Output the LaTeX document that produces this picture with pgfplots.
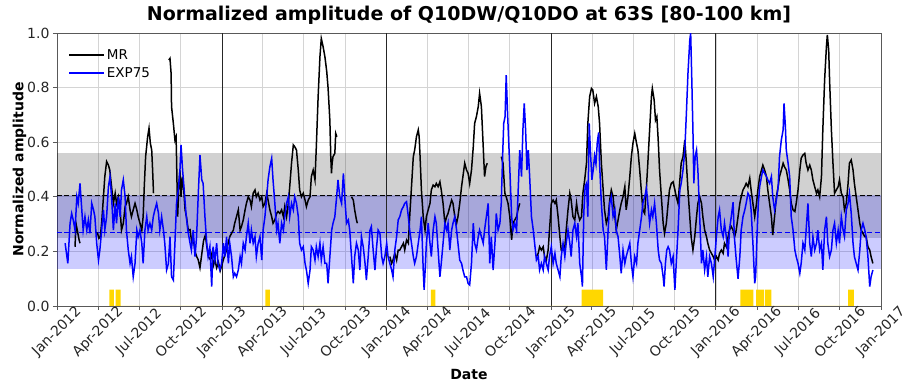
\documentclass[border=0pt]{standalone}
\usepackage{fontspec}
\setmainfont{DejaVu Sans}
\usepackage{pgfplots}
\pgfplotsset{compat=1.18}
\definecolor{gold}{RGB}{255,215,0}

\begin{document}
\begin{tikzpicture}
\useasboundingbox (0,0) rectangle (903pt,382pt);
\begin{axis}[
  at={(57pt,76pt)}, anchor=south west,
  width=824pt, height=273pt, scale only axis,
  xmin=0, xmax=1827, ymin=0, ymax=1,
  xtick={0,91,182,274,366,456,547,639,731,821,912,1004,1096,1186,1277,1369,1461,1552,1643,1735,1827},
  xticklabels={Jan-2012,Apr-2012,Jul-2012,Oct-2012,Jan-2013,Apr-2013,Jul-2013,Oct-2013,Jan-2014,Apr-2014,Jul-2014,Oct-2014,Jan-2015,Apr-2015,Jul-2015,Oct-2015,Jan-2016,Apr-2016,Jul-2016,Oct-2016,Jan-2017},
  ytick={0,0.2,0.4,0.6,0.8,1.0},
  yticklabel style={/pgf/number format/.cd, fixed, fixed zerofill, precision=1},
  /pgf/number format/assume math mode=true,
  tick align=outside, tick pos=left, major tick length=4pt,
  grid=major, grid style={draw=black!17, line width=0.8pt},
  axis line style={draw=black!65, line width=0.9pt},
  tick style={draw=black!65, line width=0.9pt},
  ticklabel style={font=\fontsize{14}{16}\selectfont, text=black!85},
  x tick label style={anchor=center, yshift=-22pt, rotate=45},
  title={Normalized amplitude of Q10DW/Q10DO at 63S [80-100 km]},
  title style={at={(axis description cs:0.5,1)}, anchor=base, yshift=6pt, font=\bfseries\fontsize{19}{22}\selectfont},
  xlabel={Date},
  xlabel style={at={(axis description cs:0.5,0)}, anchor=base, yshift=-73.5pt, font=\bfseries\fontsize{14}{16}\selectfont},
  ylabel={Normalized amplitude},
  ylabel style={at={(axis description cs:-0.0407,0.5)}, anchor=base, font=\bfseries\fontsize{14}{16}\selectfont},
  legend style={at={(axis description cs:0.010,0.955)}, anchor=north west, draw=none, fill=none,
    font=\fontsize{13.5}{15}\selectfont, row sep=2.5pt},
  legend cell align=left,
  legend image code/.code={\draw[#1, line width=1.5pt] (0pt,0pt) -- (28pt,0pt); \path (0pt,0pt) -- (35pt,0pt);},
  unbounded coords=jump,
]

% spread of each series about its mean
\addplot[draw=none, fill=black, fill opacity=0.18, forget plot]
  coordinates {(0,0.25) (1827,0.25) (1827,0.56) (0,0.56)} -- cycle;
\addplot[draw=none, fill=blue, fill opacity=0.2, forget plot]
  coordinates {(0,0.135) (1827,0.135) (1827,0.405) (0,0.405)} -- cycle;

% means
\addplot[black, line width=1.2pt, dash pattern=on 5pt off 2.5pt, forget plot]
  coordinates {(0,0.405) (1827,0.405)};
\addplot[blue, line width=1.2pt, dash pattern=on 5pt off 2.5pt, forget plot]
  coordinates {(0,0.27) (1827,0.27)};

% year boundaries
\addplot[black!85, line width=1.1pt, forget plot] coordinates {(366,0) (366,1)};
\addplot[black!85, line width=1.1pt, forget plot] coordinates {(731,0) (731,1)};
\addplot[black!85, line width=1.1pt, forget plot] coordinates {(1096,0) (1096,1)};
\addplot[black!85, line width=1.1pt, forget plot] coordinates {(1461,0) (1461,1)};

% event periods
\addplot[ybar interval, fill=gold, draw=none, forget plot] coordinates {
  (116,0.06) (126,0) (130,0.06) (141,0) (462,0.06) (472,0) (829,0.06) (839,0)
  (1163,0.06) (1211,0) (1515,0.06) (1544,0) (1550,0.06) (1568,0) (1570,0.06) (1584,0)
  (1754,0.06) (1767,0)};

% MR
\addplot[black, line width=1.5pt] coordinates {
(40,0.217) (42,0.303) (45,0.278) (49,0.242) (51,0.230) (52,nan)
(86,0.27) (90,0.266) (93,0.248) (96,0.254) (99,0.303) (103,0.400) (106,0.474) (110,0.529) (114,0.516) (117,0.498)
(121,0.437) (125,0.376) (129,0.413) (132,0.376) (136,0.400) (140,0.352) (143,0.278) (147,0.303) (151,0.364)
(154,0.376) (158,0.400) (162,0.352) (165,0.327) (169,0.352) (173,0.376) (177,0.352) (180,0.327) (184,0.303)
(188,0.278) (191,0.327) (193.5,0.437) (196.5,0.547) (201,0.620) (204,0.651) (207,0.596) (210,0.571) (212,0.498)
(214,0.413) (215,nan)
(248,0.901) (250.5,0.907) (253,0.852) (254,0.730) (258,0.669) (261.5,0.608) (264,0.620) (265,0.547) (267.5,0.327)
(270.4,0.449) (272.6,0.498) (275,0.400) (278,0.474) (281,0.425) (284,0.352) (287,0.327) (291,0.278) (295,0.28)
(299,0.23) (302,0.25) (306,0.20) (310,0.18) (313,0.17) (317,0.14) (321,0.19) (325,0.24) (329,0.26) (332,0.22)
(336,0.18) (340,0.17) (343,0.19) (347,0.15) (350,0.17) (354,0.14) (358,0.16) (362,0.13) (369,0.17) (376,0.205)
(383,0.254) (391,0.278) (394,0.303) (398,0.327) (402,0.352) (406,0.278) (409,0.291) (413,0.315) (417,0.352)
(420,0.376) (424,0.400) (428,0.388) (431,0.364) (435,0.413) (439,0.425) (442,0.400) (446,0.413) (450,0.388)
(454,0.400) (457,0.364) (461,0.376) (465,0.413) (468,0.388) (472,0.352) (476,0.327) (479,0.303) (483,0.315)
(487,0.339) (490,0.346) (494,0.339) (498,0.352) (502,0.327) (505,0.364) (509,0.327) (513,0.376) (516,0.437)
(520,0.523) (524,0.590) (527,0.584) (531,0.571) (535,0.498) (538,0.425) (542,0.400) (546,0.413) (550,0.388)
(553,0.364) (557,0.388) (561,0.400) (564,0.474) (568,0.498) (572,0.462) (575,0.584) (579,0.767) (583,0.913)
(586,0.980) (590,0.950) (594,0.913) (598,0.86) (601,0.80) (605,0.68) (607,0.547) (608.6,0.486) (610,0.523)
(612,0.547) (616,0.559) (618,0.632) (620.5,0.620) (621,nan)
(653,0.400) (657,0.388) (660,0.352) (664,0.315) (666,0.303) (667,nan)
(738,0.181) (742,0.156) (745,0.168) (749,0.193) (753,0.168) (756.5,0.205) (760,0.205) (764,0.217) (768,0.230)
(771,0.205) (775,0.242) (779,0.230) (782,0.327) (786,0.437) (790,0.547) (793,0.571) (797,0.620) (801,0.645)
(803,0.620) (805,0.547) (808,0.425) (812,0.327) (816,0.278) (819,0.327) (823,0.352) (827,0.376) (830,0.425)
(834,0.443) (838,0.437) (841,0.449) (845,0.437) (849,0.455) (852,0.425) (856,0.376) (860,0.303) (864,0.327)
(867,0.339) (871,0.364) (875,0.388) (878,0.376) (882,0.327) (886,0.303) (889,0.327) (893,0.376) (897,0.437)
(900,0.474) (904,0.523) (908,0.498) (911.5,0.486) (915,0.449) (919,0.498) (923,0.584) (926,0.669) (930,0.694)
(934,0.730) (937,0.779) (941,0.730) (945,0.584) (948,0.474) (951,0.510) (954,0.523) (955,nan)
(985,0.547) (989,0.523) (993,0.413) (996,0.400) (1000,0.376) (1004,0.327) (1008,0.242) (1011,0.303) (1015,0.315)
(1019,0.327) (1022,0.352) (1026,0.376) (1027,nan)
(1063,0.181) (1067,0.193) (1070,0.217) (1074,0.205) (1078,0.217) (1081,0.181) (1085,0.168) (1089,0.205)
(1092,0.278) (1096,0.376) (1100,0.388) (1104,0.376) (1107,0.388) (1111,0.327) (1115,0.254) (1118,0.205)
(1122,0.205) (1126,0.217) (1129,0.278) (1133,0.352) (1137,0.413) (1140,0.388) (1144,0.327) (1148,0.315)
(1152,0.376) (1155,0.339) (1159,0.315) (1163,0.327) (1166,0.413) (1170,0.462) (1174,0.523) (1177,0.669)
(1181,0.767) (1185,0.797) (1188,0.791) (1192,0.742) (1196,0.767) (1200,0.730) (1203,0.669) (1207,0.523)
(1211,0.425) (1214,0.352) (1218,0.303) (1222,0.327) (1225.5,0.388) (1229,0.425) (1233,0.400) (1237,0.327)
(1240,0.278) (1244,0.315) (1248,0.352) (1251,0.376) (1255,0.400) (1259,0.437) (1262,0.352) (1266,0.400)
(1270,0.474) (1273.5,0.547) (1277,0.596) (1281,0.632) (1285,0.596) (1288,0.571) (1292,0.498) (1296,0.413)
(1299,0.352) (1303,0.339) (1307,0.437) (1310,0.523) (1314,0.645) (1318,0.767) (1320,0.797) (1324,0.755)
(1327,0.681) (1330,0.694) (1333,0.608) (1336,0.498) (1340,0.400) (1344,0.303) (1347,0.266) (1351,0.303)
(1355,0.376) (1358,0.425) (1362,0.449) (1366,0.455) (1370,0.425) (1373,0.400) (1377,0.376) (1381,0.462)
(1384,0.523) (1388,0.547) (1392,0.608) (1395.5,0.523) (1399,0.425) (1403,0.327) (1406,0.254) (1410,0.205)
(1414,0.254) (1418,0.327) (1421,0.376) (1425,0.400) (1429,0.376) (1432,0.327) (1436,0.278) (1440,0.254)
(1443,0.230) (1447,0.205) (1451,0.193) (1455,0.181) (1458,0.168) (1462,0.181) (1466,0.168) (1469,0.193)
(1473,0.205) (1477,0.193) (1480,0.230) (1484,0.217) (1488,0.254) (1491,0.278) (1495,0.291) (1499,0.278)
(1502.5,0.254) (1506,0.278) (1510,0.327) (1514,0.376) (1517,0.400) (1521,0.425) (1525,0.437) (1528,0.449)
(1532,0.437) (1536,0.468) (1539,0.425) (1543,0.376) (1547,0.327) (1551,0.376) (1554,0.425) (1558,0.474)
(1562,0.498) (1565,0.516) (1569,0.498) (1573,0.474) (1576,0.425) (1580,0.376) (1584,0.327) (1587,0.260)
(1591,0.327) (1595,0.400) (1599,0.437) (1602,0.474) (1606,0.498) (1610,0.523) (1613,0.510) (1617,0.498)
(1621,0.462) (1624.5,0.425) (1628,0.376) (1632,0.352) (1636,0.346) (1639,0.376) (1643,0.425) (1647,0.498)
(1650,0.541) (1654,0.553) (1658,0.559) (1661,0.523) (1665,0.498) (1669,0.516) (1672.5,0.498) (1676,0.462)
(1680,0.437) (1684,0.413) (1687,0.425) (1691,0.400) (1695,0.474) (1698,0.645) (1702,0.828) (1706,0.950)
(1708,0.993) (1711,0.938) (1713,0.828) (1717,0.645) (1720.5,0.523) (1724,0.413) (1728,0.425) (1732,0.437)
(1735,0.462) (1739,0.413) (1743,0.400) (1746,0.352) (1750,0.376) (1754,0.449) (1757,0.523) (1761,0.535)
(1765,0.498) (1768,0.449) (1772,0.400) (1776,0.352) (1780,0.303) (1783,0.278) (1787,0.266) (1791,0.254)
(1794,0.254) (1798,0.217) (1802,0.205) (1805,0.181) (1809,0.156)
};
\addlegendentry{MR}

% EXP75
\addplot[blue, line width=1.5pt] coordinates {
(18,0.230) (24,0.156) (29,0.303) (32.5,0.339) (36,0.315) (40,0.278) (44,0.400) (47,0.376) (51,0.449) (55,0.352)
(58,0.278) (62,0.327) (66,0.278) (69.5,0.315) (73,0.266) (77,0.376) (81,0.352) (84,0.327) (88,0.230) (92,0.168)
(95,0.205) (99,0.278) (103,0.352) (106,0.278) (110,0.327) (114,0.437) (117.5,0.474) (121,0.400) (125,0.278)
(129,0.376) (132,0.303) (136,0.400) (140,0.327) (143,0.425) (147,0.462) (151,0.400) (154,0.278) (158,0.205)
(162,0.156) (165,0.181) (169,0.107) (173,0.156) (177,0.278) (180,0.254) (184,0.278) (188,0.230) (191,0.156)
(195,0.278) (199,0.327) (202,0.278) (206,0.303) (210,0.278) (213.5,0.327) (217,0.352) (221,0.376) (225,0.339)
(228,0.278) (232,0.327) (236,0.278) (239,0.230) (243,0.132) (247,0.156) (250.5,0.254) (254,0.107) (258,0.095)
(261.5,0.230) (265,0.376) (269,0.425) (272.6,0.498) (275,0.590) (278.5,0.498) (282,0.425) (286,0.339) (290,0.278)
(295,0.230) (298,0.205) (302,0.278) (306,0.181) (309.5,0.254) (313,0.400) (317,0.553) (321,0.462) (324,0.449)
(328,0.327) (332,0.230) (335,0.181) (339,0.217) (343,0.071) (346,0.217) (350,0.168) (354,0.230) (357,0.156)
(361,0.132) (365,0.156) (369,0.230) (372,0.181) (376,0.254) (380,0.156) (383,0.230) (387,0.181) (391,0.107)
(394,0.120) (398,0.107) (402,0.132) (406,0.181) (409,0.156) (413,0.230) (417,0.205) (420,0.254) (424,0.303)
(428,0.230) (431,0.278) (435,0.230) (439,0.254) (442,0.181) (446,0.230) (450,0.254) (454,0.168) (457,0.278)
(461,0.327) (465,0.400) (468,0.462) (472,0.510) (476,0.541) (479,0.462) (483,0.376) (487,0.278) (490,0.303)
(494,0.230) (498,0.303) (502,0.278) (505,0.327) (509,0.376) (513,0.400) (516,0.327) (520,0.376) (524,0.352)
(527,0.400) (531,0.376) (535,0.327) (538,0.230) (542,0.205) (546,0.217) (550,0.156) (553,0.132) (557,0.083)
(561,0.132) (564,0.217) (568,0.205) (572,0.168) (575,0.217) (579,0.181) (583,0.230) (586,0.168) (590,0.217)
(594,0.156) (598,0.156) (601,0.083) (605,0.181) (609,0.278) (612,0.303) (616,0.327) (620,0.400) (623,0.462)
(627,0.400) (631,0.376) (635,0.486) (638,0.400) (642,0.303) (646,0.315) (649,0.278) (653,0.181) (657,0.083)
(660,0.181) (664,0.230) (668,0.205) (671.5,0.132) (675,0.254) (679,0.217) (683,0.156) (686,0.095) (690,0.181)
(694,0.278) (697,0.291) (701,0.205) (705,0.132) (708,0.205) (712,0.278) (716,0.266) (720,0.181) (723,0.156)
(727,0.181) (731,0.230) (734,0.181) (738,0.156) (742,0.132) (745,0.107) (749,0.205) (753,0.254) (756.5,0.315)
(760,0.327) (764,0.352) (768,0.364) (771,0.376) (775,0.382) (779,0.327) (782,0.278) (786,0.230) (790,0.181)
(793,0.156) (797,0.181) (801,0.230) (805,0.278) (808,0.327) (812,0.132) (814,0.059) (817,0.156) (819,0.230)
(823,0.303) (827,0.230) (830,0.181) (834,0.278) (838,0.327) (841,0.303) (845,0.205) (849,0.107) (852,0.156)
(856,0.230) (860,0.303) (864,0.278) (867,0.303) (871,0.205) (875,0.278) (878,0.303) (882,0.327) (886,0.278)
(889,0.230) (893,0.168) (897,0.156) (900,0.132) (904,0.107) (908,0.107) (911.5,0.083) (915,0.077) (919,0.156)
(923,0.303) (926,0.230) (930,0.205) (934,0.254) (937,0.278) (941,0.254) (945,0.230) (948,0.278) (952,0.327)
(956,0.376) (959.5,0.156) (963,0.254) (967,0.132) (971,0.230) (974,0.339) (978,0.278) (982,0.303) (985,0.376)
(988,0.547) (990.5,0.669) (993.5,0.694) (996,0.846) (999,0.706) (1002,0.584) (1005,0.462) (1008,0.327)
(1011,0.278) (1015,0.303) (1019,0.278) (1022,0.400) (1026,0.571) (1030,0.474) (1033,0.645) (1036,0.742)
(1039,0.645) (1042,0.498) (1045,0.571) (1048,0.474) (1052,0.327) (1056,0.278) (1059,0.230) (1063,0.168)
(1067,0.181) (1070,0.132) (1074,0.156) (1078,0.132) (1081,0.181) (1085,0.156) (1089,0.132) (1092,0.181)
(1096,0.217) (1100,0.156) (1104,0.193) (1107,0.156) (1111,0.132) (1115,0.107) (1118,0.181) (1122,0.230)
(1126,0.181) (1129,0.230) (1133,0.278) (1137,0.230) (1140,0.181) (1144,0.278) (1148,0.303) (1152,0.254)
(1155,0.303) (1159,0.156) (1163,0.107) (1165,0.071) (1168,0.339) (1171,0.437) (1174,0.449) (1177,0.327)
(1180,0.669) (1183,0.559) (1186,0.462) (1189,0.500) (1192,0.550) (1195,0.520) (1198,0.600) (1201,0.636)
(1203,0.523) (1207,0.376) (1211,0.278) (1214,0.254) (1218,0.132) (1222,0.278) (1225.5,0.376) (1229,0.400)
(1233,0.327) (1237,0.352) (1240,0.278) (1244,0.254) (1248,0.181) (1251,0.120) (1255,0.205) (1259,0.156)
(1262,0.181) (1266,0.205) (1270,0.230) (1273.5,0.156) (1277,0.107) (1281,0.181) (1285,0.156) (1288,0.230)
(1292,0.278) (1296,0.327) (1299,0.376) (1303,0.400) (1307,0.431) (1310,0.376) (1314,0.303) (1318,0.352)
(1321,0.327) (1325,0.376) (1329,0.303) (1333,0.205) (1336,0.168) (1340,0.156) (1344,0.107) (1346,0.071)
(1349,0.156) (1352,0.205) (1355,0.217) (1358,0.205) (1362,0.156) (1366,0.181) (1370,0.059) (1373,0.156)
(1377,0.278) (1381,0.425) (1384,0.449) (1388,0.498) (1392,0.571) (1395.5,0.706) (1399,0.852) (1403,0.974)
(1405,0.999) (1407,0.864) (1410,0.645) (1412,0.449) (1415,0.547) (1418,0.571) (1421,0.498) (1425,0.327)
(1429,0.156) (1432,0.205) (1436,0.132) (1440,0.181) (1443,0.107) (1447,0.181) (1451,0.156) (1455,0.107)
(1458,0.168) (1462,0.254) (1466,0.327) (1469,0.352) (1473,0.278) (1477,0.254) (1480,0.303) (1484,0.254)
(1488,0.181) (1491,0.278) (1495,0.327) (1499,0.380) (1502,0.250) (1506,0.170) (1510,0.100) (1514,0.181)
(1517,0.278) (1521,0.327) (1525,0.352) (1528,0.376) (1532,0.413) (1536,0.400) (1539,0.352) (1543,0.230)
(1547,0.083) (1549,0.107) (1552,0.254) (1555,0.376) (1558,0.437) (1562,0.474) (1565,0.498) (1569,0.486)
(1573,0.474) (1576,0.462) (1580,0.449) (1584,0.474) (1587,0.400) (1591,0.352) (1595,0.388) (1599,0.437)
(1602,0.547) (1606,0.608) (1610,0.645) (1612,0.742) (1615,0.657) (1617,0.571) (1621,0.523) (1624.5,0.474)
(1628,0.327) (1632,0.278) (1636,0.205) (1639,0.181) (1643,0.156) (1647,0.120) (1650,0.156) (1654,0.230)
(1658,0.205) (1661,0.278) (1665,0.376) (1669,0.230) (1672.5,0.181) (1676,0.254) (1680,0.205) (1684,0.230)
(1687,0.278) (1691,0.205) (1695,0.230) (1698,0.132) (1702,0.278) (1706,0.327) (1709,0.230) (1713,0.181)
(1717,0.205) (1720.5,0.278) (1724,0.303) (1728,0.230) (1732,0.278) (1735,0.230) (1739,0.327) (1743,0.278)
(1746,0.254) (1750,0.352) (1754,0.376) (1757,0.413) (1761,0.339) (1765,0.230) (1768,0.181) (1772,0.156)
(1776,0.132) (1780,0.205) (1783,0.278) (1787,0.303) (1791,0.278) (1794,0.254) (1798,0.181) (1802,0.071)
(1805,0.107) (1809,0.132)
};
\addlegendentry{EXP75}

\end{axis}
\end{tikzpicture}
\end{document}
